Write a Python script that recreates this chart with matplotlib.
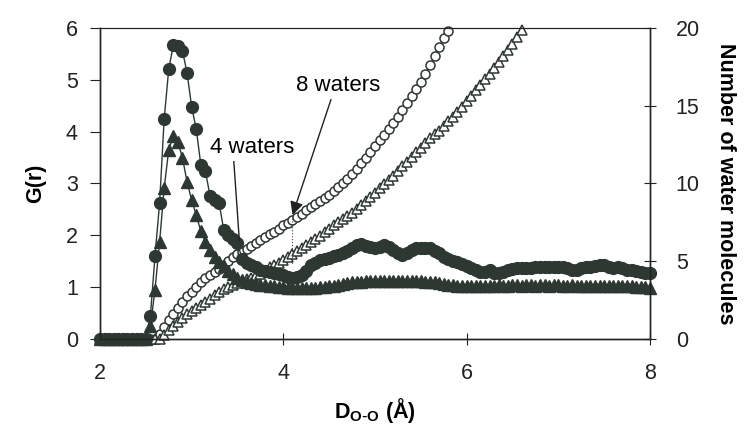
import numpy as np
import matplotlib
matplotlib.use('Agg')
import matplotlib.pyplot as plt

plt.rcParams['font.family'] = ['Liberation Sans', 'DejaVu Sans']

# O-O distance grid (Angstrom)
r = np.round(np.arange(2.0, 8.001, 0.05), 2)

# G(r), 8 waters (filled circles)
g_8 = [0, 0, 0, 0, 0, 0, 0, 0, 0, 0, 0,
       0.45, 1.6, 2.62, 4.24, 5.21, 5.67, 5.66, 5.56, 5.13, 4.48,
       4.05, 3.36, 3.24, 2.76, 2.68, 2.62, 2.10, 2.00, 1.93, 1.85,
       1.55, 1.47, 1.43, 1.38, 1.33, 1.31, 1.29, 1.28, 1.25, 1.23,
       1.20, 1.18, 1.20, 1.23, 1.32, 1.42, 1.46, 1.52, 1.55, 1.57,
       1.60, 1.62, 1.66, 1.70, 1.76, 1.81, 1.83, 1.80, 1.78, 1.75,
       1.78, 1.81, 1.77, 1.72, 1.66, 1.62, 1.66, 1.72, 1.75, 1.76,
       1.75, 1.75, 1.69, 1.65, 1.58, 1.55, 1.51, 1.48, 1.45, 1.40,
       1.36, 1.33, 1.30, 1.29, 1.33, 1.28, 1.27, 1.30, 1.33, 1.35,
       1.36, 1.37, 1.37, 1.37, 1.38, 1.39, 1.39, 1.39, 1.39, 1.39,
       1.39, 1.37, 1.34, 1.33, 1.36, 1.38, 1.39, 1.41, 1.43, 1.42,
       1.39, 1.37, 1.38, 1.36, 1.34, 1.33, 1.31, 1.29, 1.28, 1.27]

# G(r), 4 waters (filled triangles)
g_4 = [0, 0, 0, 0, 0, 0, 0, 0, 0, 0, 0,
       0.25, 0.95, 1.87, 2.91, 3.65, 3.92, 3.80, 3.49, 3.03, 2.68,
       2.39, 2.08, 1.87, 1.72, 1.58, 1.48, 1.40, 1.32, 1.25, 1.18,
       1.13, 1.10, 1.08, 1.06, 1.05, 1.04, 1.03, 1.02, 1.01, 1.00,
       0.99, 0.99, 0.98, 0.98, 0.98, 0.99, 0.99, 1.00, 1.01, 1.02,
       1.03, 1.05, 1.06, 1.08, 1.09, 1.10, 1.10, 1.11, 1.11, 1.12,
       1.12, 1.12, 1.11, 1.12, 1.12, 1.12, 1.12, 1.11, 1.11, 1.11,
       1.10, 1.10, 1.09, 1.08, 1.06, 1.05, 1.04, 1.03, 1.02, 1.02,
       1.02, 1.02, 1.03, 1.02, 1.03, 1.03, 1.04, 1.03, 1.03, 1.04,
       1.04, 1.03, 1.04, 1.04, 1.03, 1.04, 1.04, 1.03, 1.04, 1.04,
       1.03, 1.03, 1.04, 1.03, 1.03, 1.02, 1.03, 1.03, 1.02, 1.03,
       1.03, 1.02, 1.02, 1.03, 1.02, 1.02, 1.01, 1.01, 1.00, 0.98]

# number of water molecules, 8 waters (open circles), stops at 20
n_8 = [0, 0, 0, 0, 0, 0, 0, 0, 0, 0, 0, 0, 0,
       0.3, 0.75, 1.2, 1.6, 2.0, 2.4, 2.75, 3.05,
       3.35, 3.65, 3.9, 4.1, 4.3, 4.5, 4.75, 5.0, 5.25, 5.45,
       5.6, 5.8, 5.95, 6.15, 6.35, 6.55, 6.75, 6.9, 7.1, 7.3,
       7.45, 7.65, 7.85, 8.05, 8.3, 8.5, 8.7, 8.9, 9.05, 9.25,
       9.5, 9.8, 10.05, 10.3, 10.6, 10.95, 11.3, 11.65, 12.0, 12.4,
       12.8, 13.15, 13.5, 13.9, 14.3, 14.75, 15.2, 15.65, 16.1, 16.55,
       17.05, 17.6, 18.2, 18.8, 19.35, 19.8]

# number of water molecules, 4 waters (open triangles), stops at 20
n_4 = [0, 0, 0, 0, 0, 0, 0, 0, 0, 0, 0, 0, 0, 0,
       0.25, 0.55, 0.85, 1.1, 1.35, 1.6, 1.8,
       2.0, 2.2, 2.4, 2.6, 2.8, 3.0, 3.2, 3.35, 3.5, 3.6,
       3.75, 3.85, 3.95, 4.1, 4.2, 4.4, 4.6, 4.75, 4.9, 5.05,
       5.25, 5.45, 5.65, 5.85, 6.05, 6.25, 6.45, 6.65, 6.85, 7.05,
       7.3, 7.5, 7.7, 7.9, 8.1, 8.35, 8.6, 8.85, 9.1, 9.4,
       9.7, 9.95, 10.2, 10.5, 10.8, 11.1, 11.4, 11.7, 12.0, 12.3,
       12.6, 12.9, 13.2, 13.4, 13.7, 14.0, 14.3, 14.6, 14.95, 15.3,
       15.65, 16.0, 16.35, 16.7, 17.05, 17.4, 17.8, 18.2, 18.6, 19.0,
       19.4, 19.9]

dark = '#2e3833'

fig = plt.figure(figsize=(7.53, 4.32), dpi=100)
ax = fig.add_axes([0.1328, 0.2153, 0.7304, 0.7199])
ax2 = ax.twinx()

# coordination numbers on the right axis
ax2.plot(r[:len(n_8)], n_8, color=dark, lw=0.8, marker='o', ms=6.5,
         mfc='white', mec=dark, mew=1.1, clip_on=False)
ax2.plot(r[:len(n_4)], n_4, color=dark, lw=0.8, marker='^', ms=7,
         mfc='white', mec=dark, mew=1.1, clip_on=False)

# radial distribution functions on the left axis
ax.set_zorder(ax2.get_zorder() + 1)
ax.patch.set_visible(False)
ax.plot(r, g_8, color=dark, lw=1.0, marker='o', ms=8.5, mfc=dark, mec=dark,
        clip_on=False)
ax.plot(r, g_4, color=dark, lw=1.0, marker='^', ms=8.5, mfc=dark, mec=dark,
        clip_on=False)

ax.set_xlim(2, 8)
ax.set_ylim(0, 6)
ax2.set_ylim(0, 20)
ax.set_xticks([2, 4, 6, 8])
ax.set_yticks(range(0, 7))
ax2.set_yticks([0, 5, 10, 15, 20])

for a in (ax, ax2):
    for s in a.spines.values():
        s.set_color('#222222')
        s.set_linewidth(1.0)
    a.spines['top'].set_linewidth(0.8)

ax.tick_params(axis='y', direction='out', length=7, labelsize=15.5, pad=9,
               colors='#222222')
ax.tick_params(axis='x', direction='inout', length=8, labelsize=15.5, pad=13,
               colors='#222222')
ax2.tick_params(axis='y', direction='inout', length=9, labelsize=15.5, pad=14,
                colors='#222222')

ax.set_ylabel('G(r)', fontsize=15.5, fontweight='bold', labelpad=14)
ax2.set_ylabel('Number of water molecules', fontsize=15.5, fontweight='bold',
               rotation=270, labelpad=26)
ax.set_xlabel(r'D$_{\mathregular{O\text{-}O}}$ (Å)', fontsize=15.5,
              fontweight='bold', labelpad=9)

# annotations
ax.text(4.60, 4.90, '8 waters', fontsize=16, ha='center', va='center')
ax.annotate('', xy=(4.10, 2.39), xytext=(4.52, 4.62),
            arrowprops=dict(arrowstyle='-|>', color='#222222', lw=1.0,
                            mutation_scale=20, shrinkA=0, shrinkB=0))
ax.text(3.66, 3.70, '4 waters', fontsize=16, ha='center', va='center')
ax.plot([3.46, 3.52], [3.42, 1.90], color='#222222', lw=1.0)
ax.plot([4.10, 4.10], [2.39, 1.45], color='#444444', lw=0.8, ls=':')

fig.savefig('out.png', dpi=100)
